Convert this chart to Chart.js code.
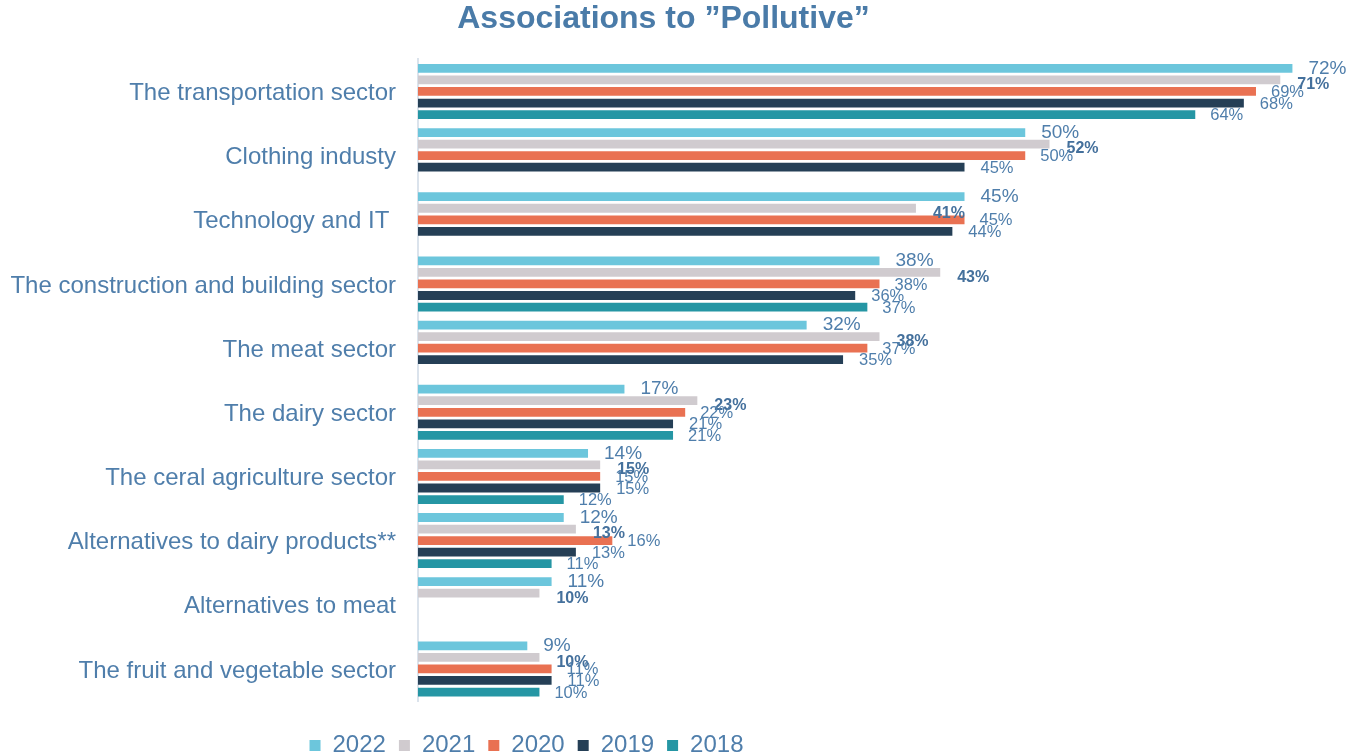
<!DOCTYPE html>
<html>
<head>
<meta charset="utf-8">
<script src="https://cdn.jsdelivr.net/npm/chart.js@4.4.0/dist/chart.umd.min.js"></script>
<style>
  html, body { margin: 0; padding: 0; background: #fff; }
</style>
</head>
<body>
<canvas id="bar-chart" width="1347" height="756"></canvas>
<script>
const categories = [
  'The transportation sector',
  'Clothing industy',
  'Technology and IT ',
  'The construction and building sector',
  'The meat sector',
  'The dairy sector',
  'The ceral agriculture sector',
  'Alternatives to dairy products**',
  'Alternatives to meat',
  'The fruit and vegetable sector',
];
const years = ['2022', '2021', '2020', '2019', '2018'];
const values2022 = [72, 50, 45, 38, 32, 17, 14, 12, 11, 9];
const values2021 = [71, 52, 41, 43, 38, 23, 15, 13, 10, 10];
const values2020 = [69, 50, 45, 38, 37, 22, 15, 16, null, 11];
const values2019 = [68, 45, 44, 36, 35, 21, 15, 13, null, 11];
const values2018 = [64, null, null, 37, null, 21, 12, 11, null, 10];
const colors = ['#6cc6dc', '#d0cbcf', '#e97152', '#253f56', '#2596a4'];

const FONT = '"Liberation Sans", Arial, sans-serif';
const TEXT = '#4f7eab';

// label style per series: 2022 bigger, 2021 bold
const labelStyle = [
  { font: '19px ' + FONT, dx: 16, dy: 0 },
  { font: 'bold 16px ' + FONT, dx: 17, dy: 5 },
  { font: '16.5px ' + FONT, dx: 15, dy: 1 },
  { font: '16.5px ' + FONT, dx: 16, dy: 1 },
  { font: '16.5px ' + FONT, dx: 15, dy: 1 },
];

const valueLabels = {
  id: 'valueLabels',
  afterDatasetsDraw(chart) {
    const ctx = chart.ctx;
    ctx.save();
    ctx.textBaseline = 'middle';
    ctx.textAlign = 'left';
    chart.data.datasets.forEach((ds, i) => {
      const meta = chart.getDatasetMeta(i);
      const st = labelStyle[i];
      ctx.font = st.font;
      ctx.fillStyle = i === 1 ? '#44709c' : TEXT;
      meta.data.forEach((bar, j) => {
        const v = ds.data[j];
        if (v === null) return;
        ctx.fillText(v + '%', bar.x + st.dx, bar.y + st.dy);
      });
    });
    ctx.restore();
  },
};

// the legend in the original sits left of centre and low on the page
const moveBoxes = {
  id: 'moveBoxes',
  afterLayout(chart) {
    const lg = chart.legend;
    const dx = -144;
    const top = 748 - 13 - 14.4;
    lg.left += dx;
    lg.right += dx;
    lg.bottom += top - lg.top;
    lg.top = top;
    const tb = chart.titleBlock;
    tb.left -= 7;
    tb.right -= 7;
  },
};

const seriesValues = [values2022, values2021, values2020, values2019, values2018];

new Chart(document.getElementById('bar-chart'), {
  type: 'bar',
  data: {
    labels: categories,
    datasets: years.map((y, i) => ({
      label: y,
      data: seriesValues[i],
      backgroundColor: colors[i],
      categoryPercentage: 0.9,
      barPercentage: 0.76,
    })),
  },
  options: {
    indexAxis: 'y',
    responsive: false,
    animation: false,
    layout: { padding: { left: 0, right: 6, top: 0, bottom: 0 } },
    scales: {
      x: {
        min: 0,
        max: 76,
        display: true,
        grid: { display: false },
        border: { display: false },
        ticks: { display: false },
        afterFit: scale => { scale.height = 8; },
      },
      y: {
        grid: { display: false, drawTicks: false },
        border: { display: true, color: '#dbe3ec', width: 2 },
        ticks: {
          color: TEXT,
          font: { family: FONT, size: 24 },
          padding: 22,
          labelOffset: 2,
          autoSkip: false,
        },
        afterFit: scale => { scale.width = 418; },
      },
    },
    plugins: {
      title: {
        display: true,
        text: 'Associations to ”Pollutive”',
        color: '#4a7ba8',
        font: { family: FONT, size: 32, weight: 'bold' },
        padding: { top: 0, bottom: 21 },
      },
      legend: {
        position: 'bottom',
        labels: {
          color: TEXT,
          font: { family: FONT, size: 24 },
          boxWidth: 11,
          boxHeight: 11,
          padding: 13,
        },
      },
      tooltip: { enabled: false },
    },
  },
  plugins: [valueLabels, moveBoxes],
});
</script>
</body>
</html>
